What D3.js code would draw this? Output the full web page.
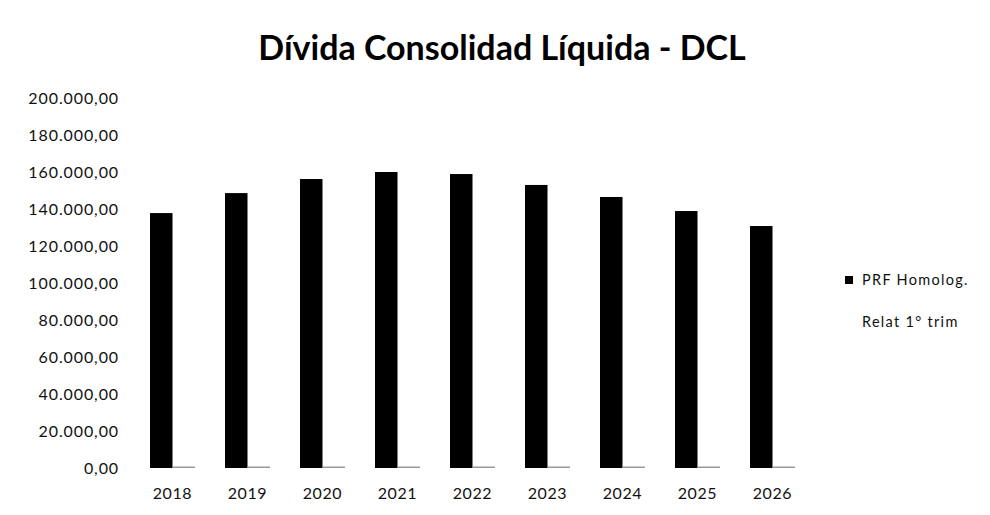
<!DOCTYPE html>
<html>
<head>
<meta charset="utf-8">
<script src="https://cdn.jsdelivr.net/npm/d3@7"></script>
<style>
  body { margin: 0; background: #fff; }
  text { font-family: Lato, "Open Sans", sans-serif; fill: #111; }
</style>
</head>
<body>
<div id="chart"></div>
<script>
// data
const years = ["2018", "2019", "2020", "2021", "2022", "2023", "2024", "2025", "2026"]
const prfHomolog = [137800, 148600, 156200, 160000, 158900, 153000, 146500, 138900, 130800]
const relat1Trim = [0, 0, 0, 0, 0, 0, 0, 0, 0]
const seriesNames = ["PRF Homolog.", "Relat  1° trim"]
const yTicks = [0, 20000, 40000, 60000, 80000, 100000, 120000, 140000, 160000, 180000, 200000]

const W = 990, H = 515

const svg = d3.select("#chart")
    .append("svg")
    .attr("width", W)
    .attr("height", H)

const ptBR = d3.formatLocale({decimal: ",", thousands: ".", grouping: [3], currency: ["R$", ""]})
const fmt = ptBR.format(",.2f")

// scales
const x = d3.scaleBand()
    .domain(years)
    .range([135, 810])
    .paddingInner(0.4)
    .paddingOuter(0.2)

const xSub = d3.scaleBand()
    .domain([0, 1])
    .range([0, x.bandwidth()])

const y = d3.scaleLinear()
    .domain([0, 200000])
    .range([468, 98])

// title
svg.append("text")
    .attr("x", 502)
    .attr("y", 60)
    .attr("text-anchor", "middle")
    .style("font-size", "34px")
    .style("font-weight", "bold")
    .style("fill", "#000")
    .text("Dívida Consolidad Líquida - DCL")

// y axis (labels only)
const yAxis = svg.append("g")
    .attr("transform", "translate(120,0)")
    .call(d3.axisLeft(y).tickValues(yTicks).tickFormat(fmt).tickSize(0).tickPadding(1))
yAxis.select(".domain").remove()
yAxis.selectAll("text")
    .style("font-size", "16px")
    .style("letter-spacing", "0.9px")
    .style("font-family", "Lato, sans-serif")
    .attr("fill", "#111")

// x axis (labels only)
const xAxis = svg.append("g")
    .attr("transform", `translate(0,${y(0)})`)
    .call(d3.axisBottom(x).tickSize(0).tickPadding(20))
xAxis.select(".domain").remove()
xAxis.selectAll("text")
    .style("font-size", "16px")
    .style("letter-spacing", "0.6px")
    .style("font-family", "Lato, sans-serif")
    .attr("fill", "#111")

// bars
const groups = svg.selectAll(".grp")
    .data(years.map((yr, i) => ({year: yr, vals: [prfHomolog[i], relat1Trim[i]]})))
    .join("g")
    .attr("class", "grp")
    .attr("transform", d => `translate(${x(d.year)},0)`)

groups.selectAll("rect")
    .data(d => d.vals.map((v, k) => ({k: k, v: v})))
    .join("rect")
    .attr("x", d => xSub(d.k))
    .attr("width", xSub.bandwidth())
    .attr("y", d => d.k === 0 ? y(d.v) : y(d.v) - 1.5)
    .attr("height", d => d.k === 0 ? y(0) - y(d.v) : Math.max(1.5, y(0) - y(d.v)))
    .attr("fill", d => d.k === 0 ? "#000" : "#9a9a9a")

// legend
const legend = svg.append("g")
svg.append("rect")
    .attr("x", 845).attr("y", 276)
    .attr("width", 8).attr("height", 8)
    .attr("fill", "#000")
legend.selectAll("text")
    .data(seriesNames)
    .join("text")
    .attr("x", 862)
    .attr("y", (d, i) => 285 + i * 42)
    .style("font-size", "14.5px")
    .style("letter-spacing", "1.3px")
    .text(d => d)
</script>
</body>
</html>
